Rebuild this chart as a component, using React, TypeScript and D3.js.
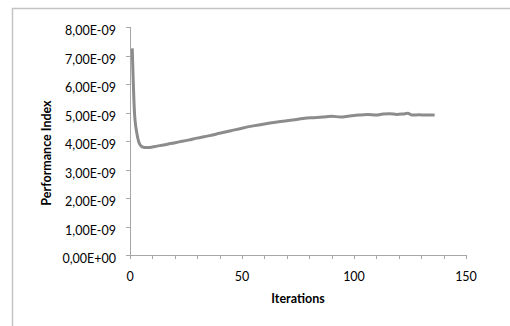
import React, { useEffect, useRef } from 'react'
import * as d3 from 'd3'

// values (units of 1e-9)
const iterations = [1, 2, 3, 4, 5, 6, 7, 8, 10, 12, 15, 18, 22, 26, 30, 35, 40, 45, 50, 55, 60, 65, 70, 75, 78, 82, 86, 90, 94, 98, 102, 106, 110, 113, 116, 119, 122, 124, 126, 129, 132, 136]
const perfIndex = [7.25, 5.0, 4.3, 3.95, 3.82, 3.78, 3.77, 3.77, 3.79, 3.82, 3.86, 3.91, 3.97, 4.03, 4.1, 4.18, 4.27, 4.36, 4.45, 4.53, 4.6, 4.66, 4.71, 4.76, 4.8, 4.82, 4.84, 4.87, 4.84, 4.88, 4.91, 4.93, 4.91, 4.95, 4.96, 4.93, 4.95, 4.97, 4.91, 4.92, 4.91, 4.91]
const yTicks = [0, 1, 2, 3, 4, 5, 6, 7, 8]
const xTicks = [0, 50, 100, 150]

const W = 510
const H = 326
const margin = { top: 27, right: 44, bottom: 71, left: 130 }
const font = 'Lato, "Open Sans", sans-serif'

const fmtY = (v: number) => v === 0 ? '0,00E+00' : `${v.toFixed(2).replace('.', ',')}E-09`

export default function App() {
  const svgRef = useRef<SVGSVGElement>(null)

  useEffect(() => {
    if (!svgRef.current) return
    const svg = d3.select(svgRef.current)
    svg.selectAll('*').remove()

    const innerW = W - margin.left - margin.right
    const innerH = H - margin.top - margin.bottom

    const x = d3.scaleLinear().domain([0, 150]).range([0, innerW])
    const y = d3.scaleLinear().domain([0, 8]).range([innerH, 0])

    // outer chart frame (only top and left edges visible)
    svg.append('path')
      .attr('d', `M12.5,${H} L12.5,8.5 L${W},8.5`)
      .style('fill', 'none')
      .style('stroke', '#c4c4c4')
      .style('stroke-width', 1.5)

    const g = svg.append('g')
      .attr('transform', `translate(${margin.left},${margin.top})`)

    const axisColor = '#a6a6a6'

    // y axis
    g.append('line')
      .attr('x1', 0.5).attr('x2', 0.5)
      .attr('y1', 0).attr('y2', innerH)
      .style('stroke', axisColor)
    yTicks.forEach(t => {
      g.append('line')
        .attr('x1', -4).attr('x2', 0.5)
        .attr('y1', Math.round(y(t)) + 0.5).attr('y2', Math.round(y(t)) + 0.5)
        .style('stroke', axisColor)
      g.append('text')
        .attr('x', -14)
        .attr('y', y(t) + 4)
        .attr('dy', '0.35em')
        .attr('text-anchor', 'end')
        .style('font-family', font)
        .style('font-size', '12.5px')
        .style('fill', '#000')
        .text(fmtY(t))
    })

    // x axis
    g.append('line')
      .attr('x1', 0).attr('x2', innerW)
      .attr('y1', innerH + 0.5).attr('y2', innerH + 0.5)
      .style('stroke', axisColor)
    d3.range(0, 151, 10).forEach(t => {
      g.append('line')
        .attr('x1', Math.round(x(t)) + 0.5).attr('x2', Math.round(x(t)) + 0.5)
        .attr('y1', innerH).attr('y2', innerH + 4)
        .style('stroke', axisColor)
    })
    xTicks.forEach(t => {
      g.append('text')
        .attr('x', x(t))
        .attr('y', innerH + 22)
        .attr('dy', '0.35em')
        .attr('text-anchor', 'middle')
        .style('font-family', font)
        .style('font-size', '12.5px')
        .style('fill', '#000')
        .text(String(t))
    })

    // series line
    const data = iterations.map((it, i) => ({ it, v: perfIndex[i] }))
    const line = d3.line<{ it: number, v: number }>()
      .x(d => x(d.it))
      .y(d => y(d.v))
      .curve(d3.curveMonotoneX)

    g.append('path')
      .datum(data)
      .attr('d', line)
      .style('fill', 'none')
      .style('stroke', '#8c8c8c')
      .style('stroke-width', 3)
      .style('stroke-linejoin', 'round')

    // axis titles
    g.append('text')
      .attr('x', innerW / 2)
      .attr('y', innerH + 44)
      .attr('dy', '0.35em')
      .attr('text-anchor', 'middle')
      .style('font-family', font)
      .style('font-size', '12.5px')
      .style('font-weight', 'bold')
      .text('Iterations')

    g.append('text')
      .attr('transform', `translate(${47 - margin.left},${innerH / 2 + 12}) rotate(-90)`)
      .attr('dy', '0.35em')
      .attr('text-anchor', 'middle')
      .style('font-family', font)
      .style('font-size', '12.5px')
      .style('font-weight', 'bold')
      .text('Performance Index')
  }, [])

  return (
    <svg
      ref={svgRef}
      width={W}
      height={H}
      style={{ position: 'absolute', left: 0, top: 0, background: '#fff' }}
    />
  )
}
